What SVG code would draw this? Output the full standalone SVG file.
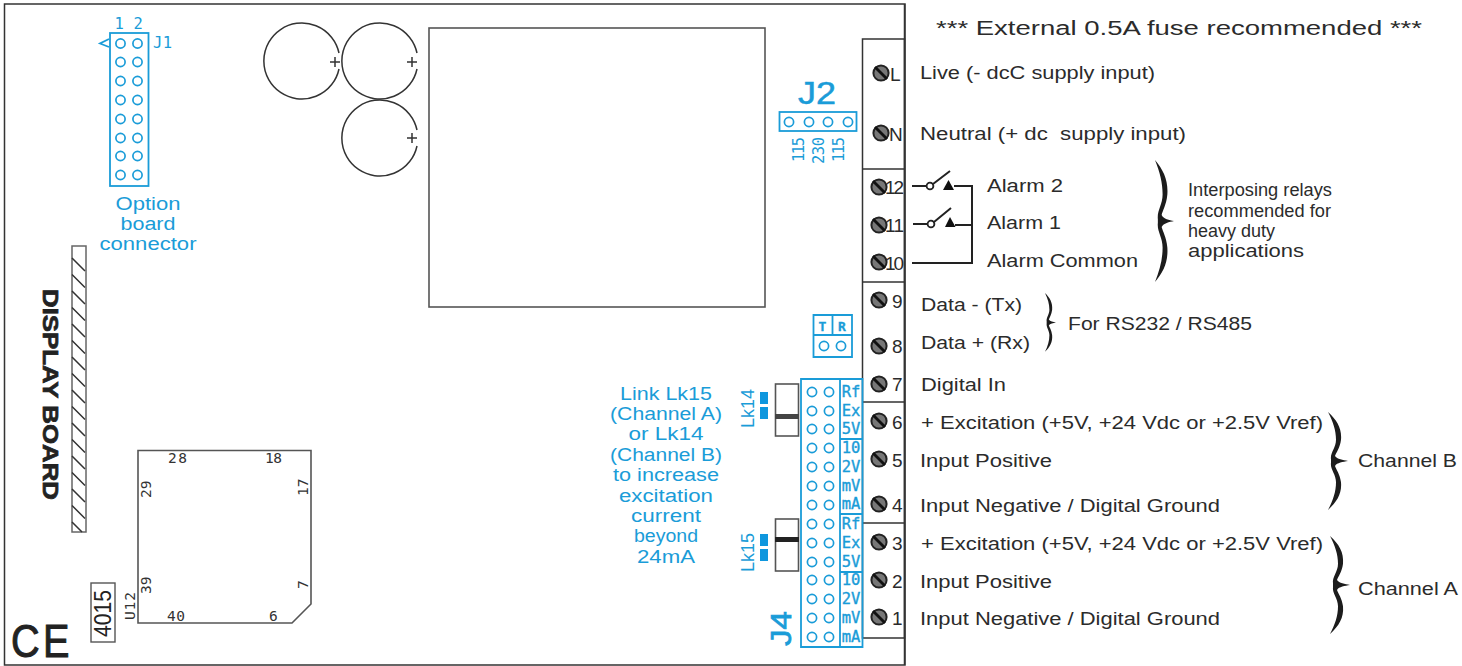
<svg xmlns="http://www.w3.org/2000/svg" xmlns:xlink="http://www.w3.org/1999/xlink" width="1462" height="666" viewBox="0 0 1462 666">
<style>
text{font-family:"Liberation Sans",Arial,sans-serif}
.t{font-size:17.5px;fill:#2b2b2b}
.n{font-size:19px;fill:#2b2b2b}
.b{font-size:18px;fill:#1a9cd8;text-anchor:middle}
.m{font-family:"DejaVu Sans Mono",monospace;font-size:15.5px;fill:#1a9cd8}
.mb{font-family:"DejaVu Sans Mono",monospace;font-size:15.5px;fill:#1a9cd8;stroke:#1a9cd8;stroke-width:.35;text-anchor:middle}
.k{font-family:"DejaVu Sans Mono",monospace;font-size:14.500px;fill:#333}
.bl{fill:none;stroke:#1a9cd8;stroke-width:1.8}
.h{fill:#fff;stroke:#1a9cd8;stroke-width:1.7}
.ln{fill:none;stroke:#333;stroke-width:1.5}
.gr{fill:none;stroke:#555;stroke-width:1.6}
.w{fill:none;stroke:#222;stroke-width:2}
</style>
<defs>
<g id="screw"><circle r="7.6" fill="#777" stroke="#222" stroke-width="2"/><line x1="-6" y1="-6" x2="6" y2="6" stroke="#111" stroke-width="2.8"/></g>
<circle id="hole" r="4.6" class="h"/>
<path id="brace" d="M0 0C9 10 14 20 13 34C12 44 8 50 7 54C9 58 15 59 20 60C15 61 9 62 7 66C8 70 12 76 13 86C14 100 9 110 0 120C5 108 8 98 8 86C8 76 2 70 3 62L3 58C2 50 8 44 8 34C8 22 5 12 0 0Z" fill="#1c1c1c"/>
</defs>
<rect width="1462" height="666" fill="#fff"/>

<g id="board">
<path d="M905 4H4.500V665H905Z" class="ln" stroke-width="1.6"/>
<path d="M904.500 4V665" class="ln"/>
</g>

<g id="terminal-block">
<path d="M862.500 39H904.500V638H862.500Z" class="ln"/>
<path d="M862.500 169H904.500M862.500 282H904.500M862.500 402H904.500M862.500 523H904.500" class="ln"/>
<use href="#screw" x="881" y="73"/><use href="#screw" x="881" y="133"/>
<use href="#screw" x="879" y="187"/><use href="#screw" x="879" y="225"/><use href="#screw" x="879" y="262"/>
<use href="#screw" x="879" y="300"/><use href="#screw" x="879" y="346"/><use href="#screw" x="879" y="384"/>
<use href="#screw" x="879" y="421"/><use href="#screw" x="879" y="459"/><use href="#screw" x="879" y="504"/>
<use href="#screw" x="879" y="542"/><use href="#screw" x="879" y="580"/><use href="#screw" x="879" y="617"/>
<text class="n" x="890" y="81">L</text><text class="n" x="889" y="141">N</text>
<text class="n" x="885" y="194" textLength="19">12</text><text class="n" x="885" y="232" textLength="19">11</text><text class="n" x="885" y="270" textLength="19">10</text>
<text class="n" x="892" y="308">9</text><text class="n" x="892" y="353">8</text><text class="n" x="892" y="391">7</text>
<text class="n" x="892" y="429">6</text><text class="n" x="892" y="467">5</text><text class="n" x="892" y="512">4</text>
<text class="n" x="892" y="550">3</text><text class="n" x="892" y="588">2</text><text class="n" x="892" y="625">1</text>
</g>

<g id="connectors">
<path class="w" d="M912 186H926M912 263H972V186H954M913 224H927M955 225H972"/>
<circle cx="930" cy="186" r="3.400" fill="#fff" stroke="#222" stroke-width="1.800"/>
<circle cx="931" cy="224" r="3.400" fill="#fff" stroke="#222" stroke-width="1.800"/>
<path class="w" d="M933 184L950 171M934 222L951 208"/>
<path d="M948.500 180L954 190H943Z" fill="#111"/>
<path d="M950 217L955.500 227H945Z" fill="#111"/>
</g>

<g id="j1">
<rect x="110" y="33" width="38.500" height="153" class="bl"/>
<g id="j1-holes">
<use href="#hole" x="120.500" y="43.500"/><use href="#hole" x="137.500" y="43.500"/>
<use href="#hole" x="120.500" y="62"/><use href="#hole" x="137.500" y="62"/>
<use href="#hole" x="120.500" y="81"/><use href="#hole" x="137.500" y="81"/>
<use href="#hole" x="120.500" y="100"/><use href="#hole" x="137.500" y="100"/>
<use href="#hole" x="120.500" y="119"/><use href="#hole" x="137.500" y="119"/>
<use href="#hole" x="120.500" y="138"/><use href="#hole" x="137.500" y="138"/>
<use href="#hole" x="120.500" y="156"/><use href="#hole" x="137.500" y="156"/>
<use href="#hole" x="120.500" y="175"/><use href="#hole" x="137.500" y="175"/>
</g>
<path d="M109 39L100 43.500L109 47" class="bl" stroke-width="1.300"/>
<text class="m" x="114.500" y="29">1</text><text class="m" x="133.500" y="29">2</text>
<text class="m" x="153" y="48" textLength="19">J1</text>
<text class="b" x="148" y="210" textLength="65" lengthAdjust="spacingAndGlyphs">Option</text>
<text class="b" x="148" y="230" textLength="55" lengthAdjust="spacingAndGlyphs">board</text>
<text class="b" x="148" y="250" textLength="97" lengthAdjust="spacingAndGlyphs">connector</text>
</g>

<g id="capacitors">
<path class="ln" d="M339 69A38 38 0 1 1 339 53"/>
<path class="ln" d="M417 69A38 38 0 1 1 417 53"/>
<path class="ln" d="M417 146A38 38 0 1 1 417 130"/>
<path class="ln" stroke-width="1.200" d="M330 62H340M335 57V67M407 62H417M412 57V67M407 138H417M412 133V143"/>
</g>

<g id="transformer"><rect x="429" y="28" width="336" height="279" class="gr"/></g>

<g id="j2">
<rect x="779.500" y="112" width="77" height="19" class="bl"/>
<use href="#hole" x="789" y="122"/><use href="#hole" x="809" y="122"/><use href="#hole" x="828" y="122"/><use href="#hole" x="848" y="122"/>
<text x="798" y="104" font-size="32" fill="#1a9cd8" stroke="#1a9cd8" stroke-width=".5" textLength="38" lengthAdjust="spacingAndGlyphs">J2</text>
<text class="m" transform="translate(804 162) rotate(-90)" textLength="25">115</text>
<text class="m" transform="translate(824 164) rotate(-90)" textLength="27">230</text>
<text class="m" transform="translate(844 162) rotate(-90)" textLength="25">115</text>
</g>

<g id="tr-link">
<path class="bl" d="M813.500 315H852V357H813.500ZM813.500 335H852M832.500 315V335"/>
<text x="822.500" y="331" class="mb" style="font-size:13px;font-weight:bold">T</text><text x="842" y="331" class="mb" style="font-size:13px;font-weight:bold">R</text>
<use href="#hole" x="824" y="346"/><use href="#hole" x="841" y="346"/>
</g>

<g id="j4">
<path class="bl" d="M801 379H862.500V647H801ZM840 379V647M840 439H862.500M840 514H862.500M840 572H862.500"/>
<g id="j4-holes">
<use href="#hole" x="812" y="392"/><use href="#hole" x="829" y="392"/>
<use href="#hole" x="812" y="411"/><use href="#hole" x="829" y="411"/>
<use href="#hole" x="812" y="429"/><use href="#hole" x="829" y="429"/>
<use href="#hole" x="812" y="448"/><use href="#hole" x="829" y="448"/>
<use href="#hole" x="812" y="467"/><use href="#hole" x="829" y="467"/>
<use href="#hole" x="812" y="486"/><use href="#hole" x="829" y="486"/>
<use href="#hole" x="812" y="505"/><use href="#hole" x="829" y="505"/>
<use href="#hole" x="812" y="524"/><use href="#hole" x="829" y="524"/>
<use href="#hole" x="812" y="543"/><use href="#hole" x="829" y="543"/>
<use href="#hole" x="812" y="562"/><use href="#hole" x="829" y="562"/>
<use href="#hole" x="812" y="580"/><use href="#hole" x="829" y="580"/>
<use href="#hole" x="812" y="599"/><use href="#hole" x="829" y="599"/>
<use href="#hole" x="812" y="618"/><use href="#hole" x="829" y="618"/>
<use href="#hole" x="812" y="637"/><use href="#hole" x="829" y="637"/>
</g>
<text class="mb" x="851" y="397">Rf</text><text class="mb" x="851" y="416">Ex</text><text class="mb" x="851" y="434">5V</text>
<text class="mb" x="851" y="453">10</text><text class="mb" x="851" y="472">2V</text><text class="mb" x="851" y="491">mV</text><text class="mb" x="851" y="509">mA</text>
<text class="mb" x="851" y="529">Rf</text><text class="mb" x="851" y="548">Ex</text><text class="mb" x="851" y="567">5V</text>
<text class="mb" x="851" y="585">10</text><text class="mb" x="851" y="604">2V</text><text class="mb" x="851" y="623">mV</text><text class="mb" x="851" y="642">mA</text>
<text transform="translate(791 646) rotate(-90)" font-size="30" fill="#1a9cd8" stroke="#1a9cd8" stroke-width=".7" textLength="35" lengthAdjust="spacingAndGlyphs">J4</text>
</g>

<g id="lk14">
<rect x="775.500" y="384" width="23" height="52" class="gr" fill="#fff"/>
<rect x="775" y="414" width="24" height="5" fill="#444"/>
<rect x="760" y="392" width="8" height="12" fill="#0f97de"/><rect x="760" y="407" width="8" height="12" fill="#0f97de"/>
<text transform="translate(754 428) rotate(-90)" font-size="18" fill="#1a9cd8" textLength="39" lengthAdjust="spacingAndGlyphs">Lk14</text>
</g>
<g id="lk15">
<rect x="775.500" y="519" width="23" height="52" class="gr" fill="#fff"/>
<rect x="775" y="537" width="24" height="5" fill="#222"/>
<rect x="760" y="534" width="8" height="12" fill="#0f97de"/><rect x="760" y="549" width="8" height="12" fill="#0f97de"/>
<text transform="translate(754 572) rotate(-90)" font-size="18" fill="#1a9cd8" textLength="39" lengthAdjust="spacingAndGlyphs">Lk15</text>
</g>

<g id="link-note">
<text class="b" x="666" y="400" textLength="92" lengthAdjust="spacingAndGlyphs">Link Lk15</text>
<text class="b" x="666" y="420" textLength="112" lengthAdjust="spacingAndGlyphs">(Channel A)</text>
<text class="b" x="666" y="440" textLength="75" lengthAdjust="spacingAndGlyphs">or Lk14</text>
<text class="b" x="666" y="461" textLength="112" lengthAdjust="spacingAndGlyphs">(Channel B)</text>
<text class="b" x="666" y="481" textLength="106" lengthAdjust="spacingAndGlyphs">to increase</text>
<text class="b" x="666" y="502" textLength="94" lengthAdjust="spacingAndGlyphs">excitation</text>
<text class="b" x="666" y="522" textLength="70" lengthAdjust="spacingAndGlyphs">current</text>
<text class="b" x="666" y="542" textLength="64" lengthAdjust="spacingAndGlyphs">beyond</text>
<text class="b" x="666" y="563" textLength="58" lengthAdjust="spacingAndGlyphs">24mA</text>
</g>

<g id="display-board">
<rect x="72" y="246" width="14" height="286" fill="#fff" stroke="#666" stroke-width="1.500"/>
<path class="ln" stroke-width="1" d="M72 258L85 271M72 274.500L85 287.500M72 291L85 304M72 307.500L85 320.500M72 324L85 337M72 340.500L85 353.500M72 357L85 370M72 373.500L85 386.500M72 390L85 403M72 406.500L85 419.500M72 423L85 436M72 439.500L85 452.500M72 456L85 469M72 472.500L85 485.500M72 489L85 502M72 505.500L85 518.500M72 522L82 532"/>
<text transform="translate(43 289) rotate(90)" font-size="22" font-weight="bold" fill="#222" stroke="#222" stroke-width=".7" textLength="211" lengthAdjust="spacingAndGlyphs">DISPLAY BOARD</text>
</g>

<g id="u12">
<path class="gr" d="M138 450.500H311V604L292 623H138Z"/>
<text class="k" x="168" y="463" textLength="19">28</text><text class="k" x="265" y="463" textLength="17">18</text>
<text class="k" x="167" y="621" textLength="18">40</text><text class="k" x="269" y="621">6</text>
<text class="k" transform="translate(151 498) rotate(-90)">29</text>
<text class="k" transform="translate(151 594) rotate(-90)">39</text>
<text class="k" transform="translate(308 496) rotate(-90)">17</text>
<text class="k" transform="translate(308 589) rotate(-90)">7</text>
<text class="k" transform="translate(135 620) rotate(-90)" textLength="28">U12</text>
</g>

<g id="model-4015">
<rect x="91" y="583" width="24" height="59" fill="#fff" stroke="#555" stroke-width="1.400"/>
<text transform="translate(110.500 637) rotate(-90)" font-size="23" fill="#222" textLength="47" lengthAdjust="spacingAndGlyphs">4015</text>
</g>

<g id="ce-mark">
<text x="11" y="657" font-size="46" fill="#222" stroke="#222" stroke-width="1" font-family="Open Sans" letter-spacing="4" textLength="62" lengthAdjust="spacingAndGlyphs">CE</text>
</g>

<g id="annotations">
<text class="t" x="936" y="35" style="font-size:20px" textLength="486" lengthAdjust="spacingAndGlyphs">*** External 0.5A fuse recommended ***</text>
<text class="t" x="920" y="79" textLength="235" lengthAdjust="spacingAndGlyphs">Live (- dcC supply input)</text>
<text class="t" x="920" y="140" textLength="266" lengthAdjust="spacingAndGlyphs" xml:space="preserve">Neutral (+ dc  supply input)</text>
<text class="t" x="987" y="192" textLength="76" lengthAdjust="spacingAndGlyphs">Alarm 2</text>
<text class="t" x="987" y="229" textLength="74" lengthAdjust="spacingAndGlyphs">Alarm 1</text>
<text class="t" x="987" y="267" textLength="151" lengthAdjust="spacingAndGlyphs">Alarm Common</text>
<text class="t" x="1188" y="196" textLength="144" lengthAdjust="spacingAndGlyphs">Interposing relays</text>
<text class="t" x="1188" y="217" textLength="143" lengthAdjust="spacingAndGlyphs">recommended for</text>
<text class="t" x="1188" y="237" textLength="87" lengthAdjust="spacingAndGlyphs">heavy duty</text>
<text class="t" x="1188" y="257" textLength="116" lengthAdjust="spacingAndGlyphs">applications</text>
<text class="t" x="921" y="311" textLength="101" lengthAdjust="spacingAndGlyphs">Data - (Tx)</text>
<text class="t" x="921" y="349" textLength="109" lengthAdjust="spacingAndGlyphs">Data + (Rx)</text>
<text class="t" x="1068" y="330" textLength="184" lengthAdjust="spacingAndGlyphs">For RS232 / RS485</text>
<text class="t" x="921" y="391" textLength="85" lengthAdjust="spacingAndGlyphs">Digital In</text>
<text class="t" x="921" y="429" textLength="402" lengthAdjust="spacingAndGlyphs">+ Excitation (+5V, +24 Vdc or +2.5V Vref)</text>
<text class="t" x="920" y="467" textLength="132" lengthAdjust="spacingAndGlyphs">Input Positive</text>
<text class="t" x="920" y="512" textLength="300" lengthAdjust="spacingAndGlyphs">Input Negative / Digital Ground</text>
<text class="t" x="1358" y="467" textLength="99" lengthAdjust="spacingAndGlyphs">Channel B</text>
<text class="t" x="921" y="550" textLength="402" lengthAdjust="spacingAndGlyphs">+ Excitation (+5V, +24 Vdc or +2.5V Vref)</text>
<text class="t" x="920" y="588" textLength="132" lengthAdjust="spacingAndGlyphs">Input Positive</text>
<text class="t" x="920" y="625" textLength="300" lengthAdjust="spacingAndGlyphs">Input Negative / Digital Ground</text>
<text class="t" x="1358" y="595" textLength="100" lengthAdjust="spacingAndGlyphs">Channel A</text>
</g>

<g id="braces">
<use href="#brace" transform="translate(1155 160) scale(.95 1.017)"/>
<use href="#brace" transform="translate(1045 293) scale(.55 .49)"/>
<use href="#brace" transform="translate(1328 412) scale(1 .817)"/>
<use href="#brace" transform="translate(1330 536) scale(1 .817)"/>
</g>
</svg>
